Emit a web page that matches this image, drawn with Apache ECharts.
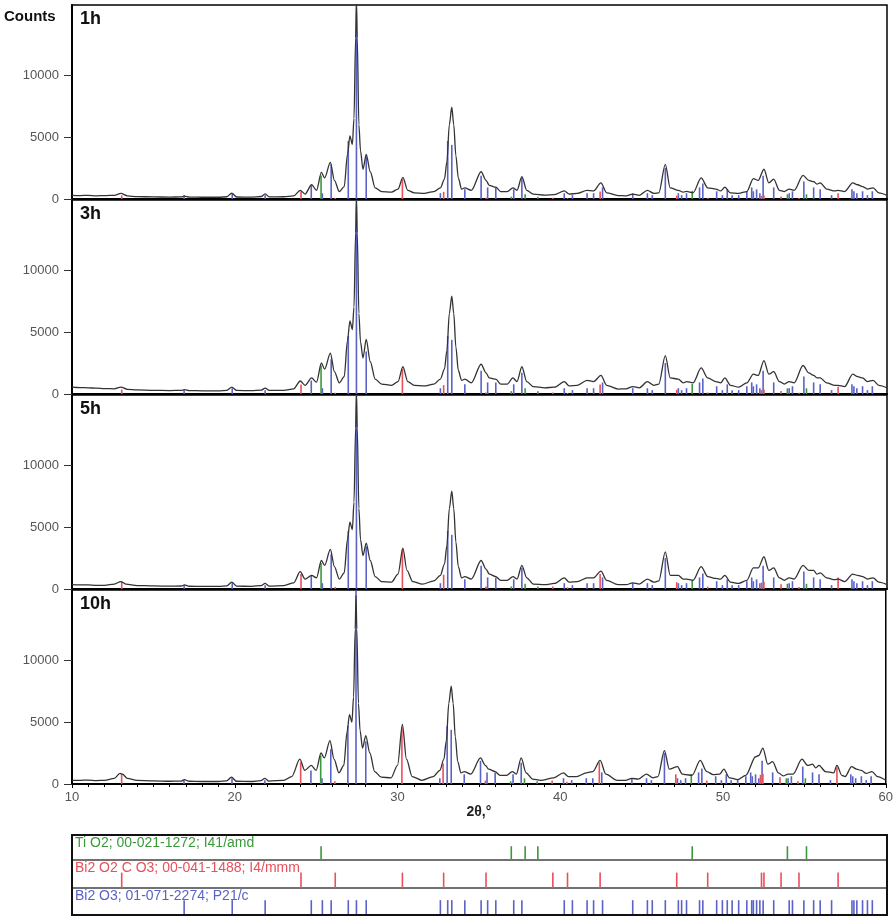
<!DOCTYPE html>
<html><head><meta charset="utf-8">
<script src="https://cdn.jsdelivr.net/npm/echarts@6/dist/echarts.min.js"></script>
<style>html,body{margin:0;padding:0;background:#fff}#c{width:896px;height:916px}</style>
</head><body><div id="c"></div>
<script>
// ---------- data ----------
const panelNames = ['1h', '3h', '5h', '10h'];
const yTicks = [0, 5000, 10000];
const xTicks = [10, 20, 30, 40, 50, 60];

const counts1h = [[10,300],[10.5,280],[11,290],[11.5,260],[12,270],[12.6,300],[13.0,450],[13.4,250],[14,190],[15,170],[16,150],[16.7,170],[16.9,230],[17.2,150],[18,140],[19,140],[19.5,180],[19.8,480],[20.1,160],[21,150],[21.6,200],[21.85,420],[22.1,170],[23,180],[23.6,250],[24.0,700],[24.3,400],[24.7,1150],[25.0,700],[25.3,2150],[25.5,1700],[25.85,2950],[26.1,1500],[26.4,600],[26.7,1000],[26.9,3600],[27.05,5100],[27.2,4400],[27.3,6500],[27.4,13000],[27.45,15700],[27.5,13000],[27.6,6000],[27.7,3900],[27.85,2400],[28.05,3600],[28.3,2200],[28.6,900],[29,600],[29.6,550],[30.0,800],[30.3,1750],[30.6,700],[31,500],[31.6,450],[32.2,600],[32.6,900],[32.85,1600],[33.0,3000],[33.15,6000],[33.3,7400],[33.42,6000],[33.55,3500],[33.7,1700],[33.9,800],[34.1,900],[34.5,700],[35.1,2200],[35.4,1500],[35.6,1100],[36.0,950],[36.3,600],[36.7,600],[37.05,900],[37.3,700],[37.6,1800],[37.9,700],[38.3,400],[39,320],[39.6,350],[40.2,650],[40.5,400],[41,450],[41.6,700],[42.0,650],[42.45,1300],[42.8,500],[43.5,280],[44.0,250],[44.4,400],[44.8,300],[45.3,700],[45.7,450],[46.0,500],[46.4,2800],[46.7,900],[47.2,700],[47.5,550],[47.7,620],[48.1,500],[48.6,1700],[49.0,900],[49.5,800],[49.8,650],[50.05,950],[50.4,500],[50.9,450],[51.4,600],[51.8,1650],[52.1,1500],[52.45,2400],[52.75,1300],[53.05,1600],[53.4,700],[53.7,600],[54.0,800],[54.3,700],[54.85,1900],[55.2,1500],[55.5,1400],[55.7,1200],[55.9,1300],[56.3,800],[56.8,650],[57.0,700],[57.4,600],[57.9,1300],[58.2,1150],[58.5,1000],[58.8,800],[59.15,900],[59.5,500],[60,300]];

const counts3h = [[10,560],[10.5,520],[11,500],[11.5,470],[12,440],[12.6,420],[13.0,560],[13.4,380],[14,330],[15,300],[16,280],[16.7,290],[16.9,350],[17.2,270],[18,260],[19,260],[19.5,300],[19.8,560],[20.1,290],[21,270],[21.6,310],[21.85,480],[22.1,290],[23,300],[23.6,420],[24.0,1050],[24.3,700],[24.7,1300],[25.0,950],[25.3,2500],[25.5,2000],[25.85,3300],[26.1,1800],[26.4,900],[26.7,1400],[26.9,4300],[27.05,5900],[27.2,5200],[27.3,7000],[27.4,13000],[27.45,15600],[27.5,13000],[27.6,6500],[27.7,4200],[27.85,2900],[28.05,4400],[28.3,2600],[28.6,1200],[29,800],[29.6,700],[30.0,1000],[30.3,2200],[30.6,1000],[31,700],[31.6,650],[32.2,800],[32.6,1200],[32.85,2000],[33.0,3500],[33.15,6500],[33.3,7900],[33.42,6500],[33.55,3800],[33.7,1900],[33.9,1100],[34.1,1200],[34.5,900],[35.1,2400],[35.4,1700],[35.6,1300],[36.0,1200],[36.3,800],[36.7,800],[37.05,1300],[37.3,1000],[37.6,2200],[37.9,1000],[38.3,600],[39,500],[39.6,550],[40.2,1000],[40.5,650],[41,700],[41.6,1100],[42.0,1000],[42.45,1500],[42.8,700],[43.5,400],[44.0,420],[44.4,600],[44.8,500],[45.3,1000],[45.7,700],[46.0,800],[46.4,3100],[46.7,1300],[47.2,1200],[47.5,900],[47.7,1000],[48.1,900],[48.6,2100],[49.0,1300],[49.5,1000],[49.8,900],[50.05,1300],[50.4,700],[50.9,550],[51.4,900],[51.8,1600],[52.1,1500],[52.45,2700],[52.75,1600],[53.05,1800],[53.4,1000],[53.7,800],[54.0,1000],[54.3,900],[54.85,2300],[55.2,1700],[55.5,1500],[55.7,1300],[55.9,1300],[56.3,900],[56.8,700],[57.0,700],[57.4,600],[57.9,1600],[58.2,1400],[58.5,1300],[58.8,1000],[59.15,1100],[59.5,700],[60,500]];

const counts5h = [[10,350],[10.5,330],[11,340],[11.5,300],[12,300],[12.6,400],[13.0,600],[13.3,400],[14,280],[15,250],[16,230],[16.7,240],[16.9,330],[17.2,220],[18,210],[19,210],[19.5,250],[19.8,550],[20.1,230],[21,210],[21.6,280],[21.85,450],[22.1,230],[23,280],[23.6,500],[24.0,1400],[24.3,800],[24.7,1100],[25.0,900],[25.3,2300],[25.5,1900],[25.85,3200],[26.1,1800],[26.4,800],[26.7,1300],[26.9,4000],[27.05,5400],[27.2,4800],[27.3,7000],[27.4,13000],[27.45,15600],[27.5,13000],[27.6,6500],[27.7,4000],[27.85,2700],[28.05,3700],[28.3,2300],[28.6,1000],[29,600],[29.6,550],[30.0,1200],[30.3,3300],[30.55,1500],[30.9,600],[31.5,400],[32.2,650],[32.6,1100],[32.85,2000],[33.0,3500],[33.15,6500],[33.3,7900],[33.42,6500],[33.55,3800],[33.7,1800],[33.9,900],[34.1,1000],[34.5,800],[35.1,2300],[35.4,1600],[35.6,1200],[36.0,1000],[36.3,700],[36.7,700],[37.05,1000],[37.3,800],[37.6,1900],[37.9,900],[38.3,400],[39,350],[39.6,450],[40.2,900],[40.5,550],[41,600],[41.6,900],[42.0,900],[42.45,1450],[42.8,700],[43.5,350],[44.0,350],[44.4,500],[44.8,400],[45.3,800],[45.7,550],[46.0,650],[46.4,3000],[46.7,1100],[47.2,1100],[47.5,800],[47.7,800],[48.1,700],[48.6,1800],[49.0,1000],[49.5,850],[49.8,800],[50.05,1100],[50.4,550],[50.9,450],[51.4,700],[51.8,1700],[52.1,1700],[52.45,2600],[52.75,1500],[53.05,1700],[53.4,900],[53.7,700],[54.0,900],[54.3,800],[54.85,1900],[55.2,1500],[55.5,1500],[55.7,1200],[55.9,1300],[56.3,900],[56.8,750],[57.0,800],[57.4,600],[57.9,1200],[58.2,1100],[58.5,1000],[58.8,800],[59.15,900],[59.5,550],[60,350]];

const counts10h = [[10,300],[10.5,300],[11,320],[11.5,280],[12,300],[12.6,450],[12.95,850],[13.1,800],[13.4,450],[14,300],[15,250],[16,220],[16.7,230],[16.9,350],[17.2,220],[18,200],[19,200],[19.5,250],[19.8,550],[20.1,220],[21,200],[21.6,280],[21.85,450],[22.1,230],[23,300],[23.5,600],[24.0,2000],[24.3,1100],[24.7,1500],[25.0,1100],[25.3,2500],[25.5,2100],[25.85,3500],[26.1,2000],[26.4,900],[26.7,1500],[26.9,4200],[27.05,5600],[27.2,5000],[27.3,7000],[27.4,12500],[27.45,15200],[27.5,12500],[27.6,6500],[27.7,4300],[27.85,2900],[28.05,3900],[28.3,2500],[28.6,1000],[29,550],[29.6,500],[30.0,1500],[30.3,4800],[30.55,2000],[30.9,600],[31.5,300],[32.2,600],[32.6,1100],[32.85,2000],[33.0,3500],[33.15,6500],[33.3,7900],[33.42,6500],[33.55,3800],[33.7,1800],[33.9,900],[34.1,1000],[34.5,800],[35.1,2100],[35.4,1500],[35.6,1200],[36.0,1000],[36.3,700],[36.7,700],[37.05,1000],[37.3,800],[37.6,2100],[37.9,900],[38.3,400],[38.8,300],[39.6,500],[40.2,900],[40.5,600],[41,600],[41.6,900],[42.0,1000],[42.45,1900],[42.8,800],[43.5,300],[44.0,300],[44.4,450],[44.8,400],[45.3,800],[45.7,500],[46.0,600],[46.4,2700],[46.7,1200],[47.2,1400],[47.5,800],[47.7,750],[48.1,700],[48.6,1900],[49.0,1000],[49.4,750],[49.8,800],[50.05,1200],[50.4,500],[50.9,350],[51.4,700],[52.0,2200],[52.2,2300],[52.45,2900],[52.75,1600],[53.05,1800],[53.4,900],[53.7,650],[54.0,800],[54.3,800],[54.85,2000],[55.2,1500],[55.5,1600],[55.7,1300],[55.9,1500],[56.3,1000],[56.8,900],[57.0,1500],[57.3,700],[57.5,600],[57.9,1400],[58.2,1200],[58.5,1100],[58.8,850],[59.15,1000],[59.5,600],[60,300]];

// reference patterns: positions (2θ) and relative intensities (%)
const tio2Pos = [25.28, 36.95, 37.80, 38.58, 48.05, 53.89, 55.06];
const tio2Int = [100, 10, 20, 10, 35, 20, 20];
const bcoPos = [13.05, 24.05, 26.15, 30.27, 32.8, 35.4, 39.5, 40.4, 42.4, 47.1, 49.0, 52.3, 52.45, 53.5, 54.6, 57.0];
const bcoInt = [18, 38, 5, 100, 36, 6, 6, 4, 38, 17, 6, 16, 18, 12, 5, 29];
const bi2o3Pos = [16.88, 19.83, 21.85, 24.68, 25.36, 25.9, 26.95, 27.45, 28.05, 32.6, 33.05, 33.3, 34.1, 35.1, 35.5, 36.0, 37.1, 37.6, 40.2, 40.7, 41.6, 42.0, 42.55, 44.4, 45.3, 45.6, 46.4, 47.2, 47.4, 47.7, 48.5, 48.7, 49.55, 49.9, 50.2, 50.5, 50.9, 51.4, 51.7, 51.8, 52.0, 52.2, 52.4, 53.05, 54.0, 54.2, 54.9, 55.5, 55.9, 56.6, 57.85, 57.97, 58.15, 58.5, 58.8, 59.1];
const bi2o3Int = [2, 3, 2, 7, 3, 18, 30, 100, 22, 3, 30, 28, 5, 12, 6, 6, 5, 11, 3, 2, 3, 3, 6, 3, 3, 2, 16, 3, 2, 3, 6, 8, 4, 2, 5, 2, 2, 4, 6, 4, 5, 3, 12, 6, 3, 4, 9, 6, 5, 2, 5, 4, 3, 4, 2, 4];
// per-panel scale (counts at 100 %) of each phase
const tio2Scale = [1900, 2300, 2100, 2300];
const bcoScale = [1600, 2000, 3200, 4600];
const bi2o3Scale = [15600, 15600, 15600, 15600];
const phaseLabels = ['Ti O2; 00-021-1272; I41/amd', 'Bi2 O2 C O3; 00-041-1488; I4/mmm', 'Bi2 O3; 01-071-2274; P21/c'];

// ---------- layout / style ----------
const allCounts = [counts1h, counts3h, counts5h, counts10h];
const L = 72, R = 9;
const panelTop = [5, 200, 395, 590], panelH = 194;
const rowTop = [835, 860, 888], rowH = [25, 28, 27];
const YMAX = 15650;
const COL_G = '#3a9a3a', COL_R = '#e8505a', COL_B = '#5a62c8';
const FONT = 'Liberation Sans, Arial, sans-serif';

function stickItem(params, api) {
  const x = api.value(0), h = api.value(1);
  const p0 = api.coord([x, 0]);
  const p1 = api.coord([x, h]);
  return { type: 'line', shape: { x1: p0[0], y1: p0[1], x2: p1[0], y2: Math.max(p1[1], params.coordSys.y) },
    style: { stroke: api.visual('color'), lineWidth: 1.6 } };
}
function sticks(pos, ints, scale) { return pos.map((p, i) => [p, ints[i] * scale / 100]); }

const grid = [], xAxis = [], yAxis = [], series = [];
panelTop.forEach((t, i) => {
  grid.push({ left: L, right: R, top: t, height: panelH, show: true, borderColor: '#000', borderWidth: 1.5, backgroundColor: '#fff' });
  const last = i === 3;
  xAxis.push({ type: 'value', gridIndex: i, min: 10, max: 60, interval: 10,
    axisLine: { show: true, onZero: false, lineStyle: { color: '#000', width: 2 } },
    axisTick: { show: last, length: 4, lineStyle: { color: '#000' } },
    minorTick: { show: last, splitNumber: 10, length: 3, lineStyle: { color: '#000' } },
    axisLabel: { show: last, color: '#555', fontSize: 13, fontFamily: FONT, margin: 7,
      customValues: xTicks },
    splitLine: { show: false },
    name: last ? '2θ,°' : '', nameLocation: 'middle', nameGap: 14,
    nameTextStyle: { color: '#222', fontSize: 14, fontWeight: 'bold', fontFamily: FONT } });
  yAxis.push({ type: 'value', gridIndex: i, min: 0, max: YMAX,
    axisLine: { show: true, lineStyle: { color: '#000', width: 2 } },
    axisTick: { show: true, length: 8, customValues: yTicks, lineStyle: { color: '#333' } },
    axisLabel: { show: true, customValues: yTicks, color: '#555', fontSize: 13, fontFamily: FONT, margin: 13, formatter: v => String(v) },
    splitLine: { show: false } });
  series.push({ type: 'custom', xAxisIndex: i, yAxisIndex: i, renderItem: stickItem, itemStyle: { color: COL_B, opacity: 0.85 }, data: sticks(bi2o3Pos, bi2o3Int, bi2o3Scale[i]), z: 2, silent: true });
  series.push({ type: 'custom', xAxisIndex: i, yAxisIndex: i, renderItem: stickItem, itemStyle: { color: COL_R }, data: sticks(bcoPos, bcoInt, bcoScale[i]), z: 2, silent: true });
  series.push({ type: 'custom', xAxisIndex: i, yAxisIndex: i, renderItem: stickItem, itemStyle: { color: COL_G }, data: sticks(tio2Pos, tio2Int, tio2Scale[i]), z: 2, silent: true });
  series.push({ type: 'line', xAxisIndex: i, yAxisIndex: i, data: allCounts[i], showSymbol: false, smooth: 0.3, smoothMonotone: 'x',
    lineStyle: { color: '#333', width: 1.3 }, z: 3, silent: true, clip: true });
});

const patPos = [tio2Pos, bcoPos, bi2o3Pos];
const patCol = [COL_G, COL_R, COL_B];
rowTop.forEach((t, j) => {
  const gi = 4 + j;
  grid.push({ left: L, right: R, top: t, height: rowH[j], show: true, borderColor: '#444', borderWidth: 1.2 });
  xAxis.push({ type: 'value', gridIndex: gi, min: 10, max: 60, show: false });
  yAxis.push({ type: 'value', gridIndex: gi, min: 0, max: 1, show: false });
  series.push({ type: 'custom', xAxisIndex: gi, yAxisIndex: gi, renderItem: stickItem, itemStyle: { color: patCol[j] },
    data: patPos[j].map(p => [p, 0.55]), silent: true });
});

const graphic = [
  { type: 'text', left: 4, top: 9, style: { text: 'Counts', fill: '#111', font: 'bold 15px ' + FONT } },
  { type: 'rect', shape: { x: L, y: rowTop[0], width: 896 - L - R, height: 80 }, style: { fill: 'none', stroke: '#111', lineWidth: 2 }, z: 10 }
];
panelTop.forEach((t, i) => graphic.push({ type: 'text', left: 80, top: t + 5, style: { text: panelNames[i], fill: '#111', font: 'bold 18px ' + FONT }, z: 10 }));
rowTop.forEach((t, j) => graphic.push({ type: 'text', left: L + 3, top: t + 1, style: { text: phaseLabels[j], fill: patCol[j], font: '14px ' + FONT }, z: 10 }));

const chart = echarts.init(document.getElementById('c'), null, { renderer: 'canvas' });
chart.setOption({ animation: false, backgroundColor: '#fff', grid, xAxis, yAxis, series, graphic });
</script>
</body></html>
